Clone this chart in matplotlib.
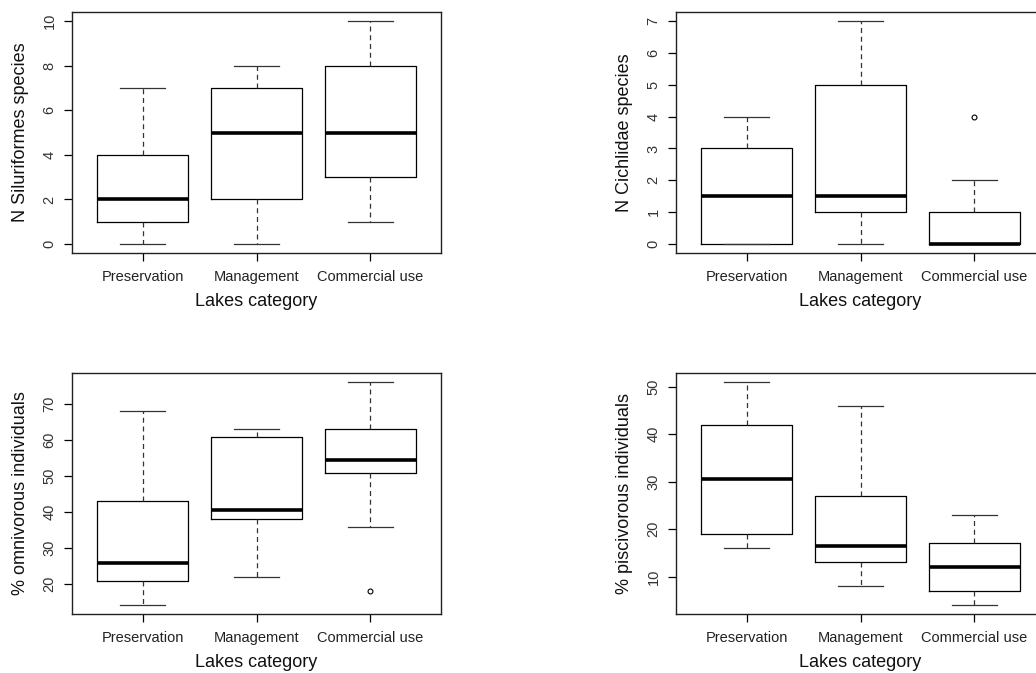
import matplotlib
matplotlib.use("Agg")
from matplotlib import pyplot as plt

plt.rcParams["font.family"] = ["Liberation Sans", "DejaVu Sans"]

categories = ["Preservation", "Management", "Commercial use"]
x_label = "Lakes category"

# five-number summaries: low whisker, Q1, median, Q3, high whisker
siluriformes = [(0, 1, 2, 4, 7), (0, 2, 5, 7, 8), (1, 3, 5, 8, 10)]
siluriformes_out = [[], [], []]
cichlidae = [(0, 0, 1.5, 3, 4), (0, 1, 1.5, 5, 7), (0, 0, 0, 1, 2)]
cichlidae_out = [[], [], [4]]
omnivorous = [(14.2, 21, 26, 43, 68.2), (22, 38, 40.5, 61, 63), (36, 51, 54.5, 63, 76.2)]
omnivorous_out = [[], [], [18]]
piscivorous = [(16, 19, 30.5, 42, 51), (8, 13, 16.5, 27, 46), (4, 7, 12, 17, 23)]
piscivorous_out = [[], [], []]

panels = [
    ("N Siluriformes species", siluriformes, siluriformes_out, [0, 2, 4, 6, 8, 10]),
    ("N Cichlidae species", cichlidae, cichlidae_out, [0, 1, 2, 3, 4, 5, 6, 7]),
    ("% omnivorous individuals", omnivorous, omnivorous_out, [20, 30, 40, 50, 60, 70]),
    ("% piscivorous individuals", piscivorous, piscivorous_out, [10, 20, 30, 40, 50]),
]

W, H = 1036, 673
fig = plt.figure(figsize=(W / 100, H / 100), dpi=100)

# axes boxes in pixels (left, top, right, bottom)
boxes = [(72, 12, 441, 253), (676, 12, 1045, 253),
         (72, 373, 441, 614), (676, 373, 1045, 614)]


def make_stats(summary, outliers):
    stats = []
    for (lo, q1, med, q3, hi), fl in zip(summary, outliers):
        stats.append(dict(whislo=lo, q1=q1, med=med, q3=q3, whishi=hi, fliers=fl))
    return stats


for (ylab, summary, outs, yticks), (l, t, r, b) in zip(panels, boxes):
    ax = fig.add_axes([l / W, 1 - b / H, (r - l) / W, (b - t) / H])
    stats = make_stats(summary, outs)
    ax.bxp(stats, positions=[1, 2, 3], widths=0.8, showfliers=True,
           boxprops=dict(color="black", linewidth=0.9),
           medianprops=dict(color="black", linewidth=2.6, solid_capstyle="butt"),
           whiskerprops=dict(color="#333333", linewidth=0.9, linestyle=(0, (4, 3))),
           capprops=dict(color="#333333", linewidth=0.9),
           capwidths=0.4,
           flierprops=dict(marker="o", markersize=3.5, markerfacecolor="none",
                           markeredgecolor="black", markeredgewidth=0.8))
    # R style 4% padding on both axes
    vals = [v for s in summary for v in s] + [v for o in outs for v in o]
    lo, hi = min(vals), max(vals)
    pad = (hi - lo) * 0.04
    ax.set_ylim(lo - pad, hi + pad)
    ax.set_xlim(0.5 - 0.12, 3.5 + 0.12)
    ax.set_xticks([1, 2, 3])
    ax.set_xticklabels(categories, fontsize=10.5, color="#222222")
    ax.set_yticks(yticks)
    ax.set_yticklabels([str(v) for v in yticks], fontsize=10.5, rotation=90,
                       va="center", color="#333333")
    ax.tick_params(axis="x", length=6, width=0.9, pad=6)
    ax.tick_params(axis="y", length=6, width=0.9, pad=5)
    ax.set_xlabel(x_label, fontsize=13, labelpad=7, color="#111111")
    ax.set_ylabel(ylab, fontsize=13, labelpad=10, color="#111111")
    for sp in ax.spines.values():
        sp.set_linewidth(1.0)
        sp.set_color("#222222")

fig.savefig("out.png", dpi=100)
